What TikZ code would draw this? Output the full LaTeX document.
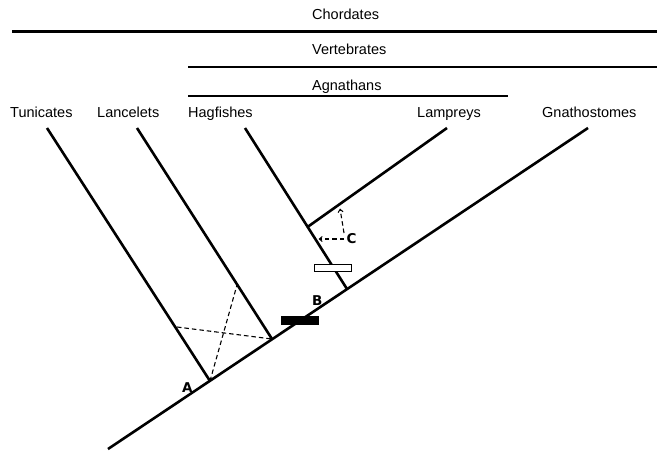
\documentclass[tikz,border=0pt]{standalone}
\usepackage{fontspec}
\setmainfont{Liberation Sans}
\newfontfamily\letterfont{DejaVu Sans}
\usetikzlibrary{arrows.meta}
\begin{document}
\begin{tikzpicture}[x=1pt,y=-1pt,
  branch/.style={line width=2.6pt},
  grp/.style={line width=2.8pt},
  lbl/.style={anchor=base west,inner sep=0pt,font=\fontsize{14.5}{16}\selectfont},
  letter/.style={anchor=base west,inner sep=0pt,font=\letterfont\fontsize{13.5}{16}\selectfont\bfseries},
  dsh/.style={line width=1.1pt,dash pattern=on 4.5pt off 3pt},
  darrow/.style={dsh,-{Straight Barb[length=3pt,width=5pt,line width=1pt]}},
  bar/.style={line width=1.9pt}]
\useasboundingbox (0,0) rectangle (657,453);
% coordinates
\coordinate (root) at (108,449);
\coordinate (tG) at (588,128);
\coordinate (jT) at (210,381);
\coordinate (tT) at (47,128);
\coordinate (jL) at (272,339);
\coordinate (tL) at (137,128);
\coordinate (jH) at (347,289);
\coordinate (tH) at (245,128);
\coordinate (jLp) at (307.5,227);
\coordinate (tLp) at (447,128);
\coordinate (xT) at (177,327);
\coordinate (xL) at (237,285);
\coordinate (cS1) at (344,233);
\coordinate (cE1) at (340,208.5);
\coordinate (cS2) at (344,239);
\coordinate (cE2) at (318.5,239);
\coordinate (chL) at (12,31.5);
\coordinate (chR) at (657,31.5);
\coordinate (veL) at (188,67);
\coordinate (veR) at (657,67);
\coordinate (agL) at (188,96);
\coordinate (agR) at (508,96);
% group lines
\draw[grp] (chL) -- (chR);
\draw[grp] (veL) -- (veR);
\draw[grp] (agL) -- (agR);
% group labels
\node[lbl] (chord) at (312,19) {Chordates};
\node[lbl] (vert) at (312,54) {Vertebrates};
\node[lbl] (agna) at (312,90) {Agnathans};
% taxon labels
\node[lbl] (tun) at (10,117) {Tunicates};
\node[lbl] (lan) at (97,117) {Lancelets};
\node[lbl] (hag) at (188,117) {Hagfishes};
\node[lbl] (lam) at (417,117) {Lampreys};
\node[lbl] (gna) at (542,117) {Gnathostomes};
% tree
\draw[branch] (root) -- (tG);
\draw[branch] (jT) -- (tT);
\draw[branch] (jL) -- (tL);
\draw[branch] (jH) -- (tH);
\draw[branch] (jLp) -- (tLp);
% dashed lines
\draw[dsh] (xT) -- (jL);
\draw[dsh] (jT) -- (xL);
\draw[darrow] (cS1) -- (cE1);
\draw[darrow] (cS2) -- (cE2);
% bars
\fill (281,316) rectangle (319,325);
\draw[bar,fill=white] (314.5,264.5) rectangle (351.5,271.5);
% letters
\node[letter] (la) at (182,392) {A};
\node[letter] (lb) at (312,305) {B};
\node[letter] (lc) at (346.5,243) {C};
\end{tikzpicture}
\end{document}
